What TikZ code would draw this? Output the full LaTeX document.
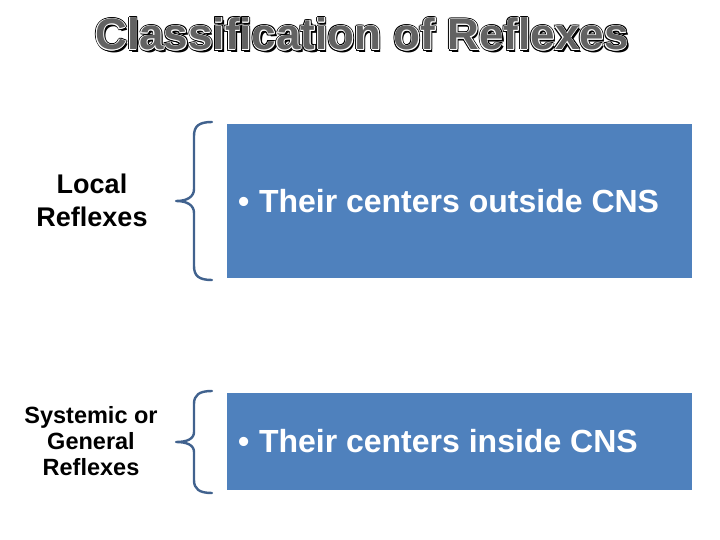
\documentclass[tikz,border=0pt]{standalone}
\usepackage{fontspec}
\setmainfont{Liberation Sans}
\definecolor{boxblue}{HTML}{4F81BD}
\definecolor{bracecol}{HTML}{41628E}
\definecolor{titlefill}{HTML}{626262}
\newcommand{\titletext}{Classification of Reflexes}
\begin{document}
\begin{tikzpicture}[x=1pt,y=-1pt,
  ttl/.style={anchor=base,inner sep=0pt,font=\fontsize{44}{50}\selectfont\bfseries},
  bluebox/.style={fill=boxblue,draw=none,anchor=north west,inner sep=0pt},
  boxtext/.style={anchor=base west,inner sep=0pt,text=white,font=\fontsize{32}{36}\selectfont\bfseries},
  lefttext/.style={anchor=center,inner sep=0pt,align=center,font=\bfseries},
  bracepath/.style={draw=bracecol,line width=2.4pt,line cap=round,line join=round}]
\useasboundingbox (0,0) rectangle (720,540);
% title (outlined text)
\foreach \dx/\dy [count=\i] in {1.7/0,-1.7/0,0/1.7,0/-1.7,1.2/1.2,-1.2/1.2,1.2/-1.2,-1.2/-1.2,2.2/2.2}
  \node[ttl,text=black] (tk\i) at (362+\dx,50+\dy) {\titletext};
\foreach \dx/\dy [count=\i] in {0.7/0,-0.7/0,0/0.7,0/-0.7,0.5/0.5,-0.5/0.5,0.5/-0.5,-0.5/-0.5}
  \node[ttl,text=white] (tw\i) at (362+\dx,50+\dy) {\titletext};
\node[ttl,text=titlefill] (title) at (362,50) {\titletext};
% boxes
\node[bluebox,minimum width=465pt,minimum height=154pt] (box1) at (227,124) {};
\node[bluebox,minimum width=465pt,minimum height=97pt] (box2) at (227,393) {};
\node[boxtext] (txt1) at (238,212) {•\hspace{0.3em}Their centers outside CNS};
\node[boxtext] (txt2) at (238,452) {•\hspace{0.3em}Their centers inside CNS};
% left labels
\node[lefttext,font=\fontsize{27}{33}\selectfont\bfseries] (lab1) at (92,200) {Local\\Reflexes};
\node[lefttext,font=\fontsize{23.5}{26}\selectfont\bfseries] (lab2) at (91,441) {Systemic or\\General\\Reflexes};
% braces
\draw[bracepath] (212,122) .. controls (199,122) and (194,126) .. (194,136)
  -- (194,189) .. controls (194,197) and (187,201) .. (176,201)
  .. controls (187,201) and (194,205) .. (194,213)
  -- (194,266) .. controls (194,276) and (199,280) .. (212,280);
\draw[bracepath] (212,391) .. controls (199,391) and (194,395) .. (194,404)
  -- (194,432) .. controls (194,439) and (187,442) .. (176,442)
  .. controls (187,442) and (194,445) .. (194,452)
  -- (194,480) .. controls (194,489) and (199,493) .. (212,493);
\end{tikzpicture}
\end{document}
